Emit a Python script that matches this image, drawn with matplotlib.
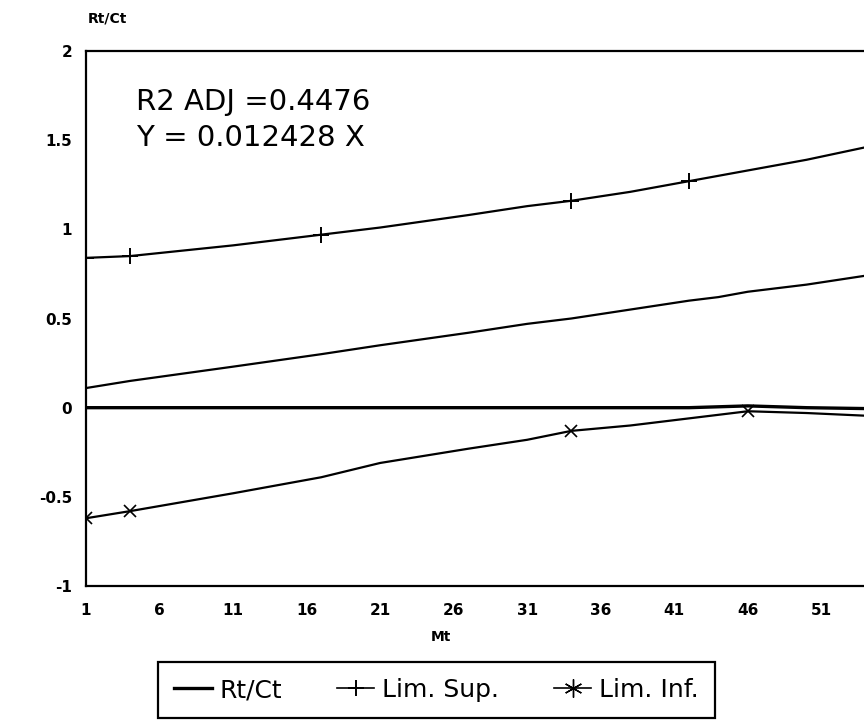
import matplotlib
matplotlib.use("Agg")
import matplotlib.pyplot as plt
from matplotlib.lines import Line2D

# values
mt = [1, 4, 11, 17, 21, 27, 31, 34, 38, 42, 44, 46, 48, 50, 54]
rt_ct = [0.0, 0.0, 0.0, 0.0, 0.0, 0.0, 0.0, 0.0, 0.0, 0.0, 0.005, 0.01, 0.005, 0.0, -0.005]
lim_sup = [0.84, 0.85, 0.91, 0.97, 1.01, 1.08, 1.13, 1.16, 1.21, 1.27, 1.30, 1.33, 1.36, 1.39, 1.46]
lim_inf = [-0.62, -0.58, -0.48, -0.39, -0.31, -0.23, -0.18, -0.13, -0.10, -0.06, -0.04, -0.02, -0.025, -0.03, -0.045]
fit = [0.11, 0.15, 0.23, 0.30, 0.35, 0.42, 0.47, 0.50, 0.55, 0.60, 0.62, 0.65, 0.67, 0.69, 0.74]

x_ticks = [1, 6, 11, 16, 21, 26, 31, 36, 41, 46, 51]
y_ticks = [-1, -0.5, 0, 0.5, 1, 1.5, 2]
y_labels = ["-1", "-0.5", "0", "0.5", "1", "1.5", "2"]

fig = plt.figure(figsize=(8.64, 7.28), dpi=100)
ax = fig.add_axes([0.0995, 0.195, 0.9005, 0.735])

ax.plot(mt, fit, color="black", lw=1.6)
ax.plot(mt, lim_sup, color="black", lw=1.6, marker="+", markersize=12,
        markeredgewidth=1.4, markevery=[0, 1, 3, 7, 9])
ax.plot(mt, lim_inf, color="black", lw=1.6, marker="x", markersize=8,
        markeredgewidth=1.2, markevery=[0, 1, 7, 11])
ax.plot(mt, rt_ct, color="black", lw=2.4)

ax.set_xlim(1, 53.9)
ax.set_ylim(-1, 2)
ax.set_xticks(x_ticks)
ax.set_yticks(y_ticks)
ax.set_yticklabels(y_labels)
ax.tick_params(length=0, labelsize=11)
ax.tick_params(axis="y", pad=10)
ax.tick_params(axis="x", pad=12)
for lab in ax.get_xticklabels() + ax.get_yticklabels():
    lab.set_fontweight("bold")
ax.spines["right"].set_visible(False)
for s in ["left", "bottom", "top"]:
    ax.spines[s].set_linewidth(1.6)

ax.text(0.064, 0.905, "R2 ADJ =0.4476", transform=ax.transAxes,
        fontsize=21, va="center")
ax.text(0.064, 0.838, "Y = 0.012428 X", transform=ax.transAxes,
        fontsize=21, va="center")

fig.text(0.102, 0.975, "Rt/Ct", fontsize=10, fontweight="bold", va="center")
fig.text(0.51, 0.125, "Mt", fontsize=10, fontweight="bold", ha="center", va="center")

handles = [
    Line2D([], [], color="black", lw=2.4),
    Line2D([], [], color="black", lw=1.2, marker="+", markersize=12, markeredgewidth=1.4),
    Line2D([], [], color="black", lw=1.2, marker=(6, 2, 0), markersize=13, markeredgewidth=1.0),
]
leg = fig.legend(handles, ["Rt/Ct", "Lim. Sup.", "Lim. Inf."], loc="center",
                 bbox_to_anchor=(0.505, 0.052), ncol=3, fontsize=18,
                 handlelength=1.5, handletextpad=0.3, columnspacing=2.2,
                 borderpad=0.65, borderaxespad=0.2, fancybox=False,
                 edgecolor="black", framealpha=1)
leg.get_frame().set_linewidth(1.6)

fig.savefig("out.png", dpi=100)
